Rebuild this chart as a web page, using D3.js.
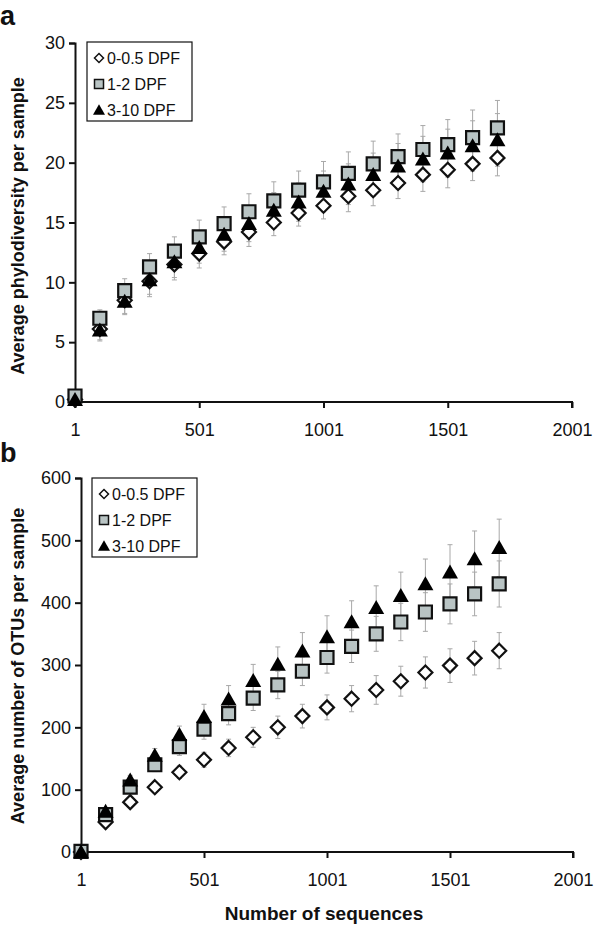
<!DOCTYPE html>
<html>
<head>
<meta charset="utf-8">
<script src="https://cdn.jsdelivr.net/npm/d3@7"></script>
<style>
  body { margin: 0; background: #fff; }
  svg { font-family: "Liberation Sans", Arial, sans-serif; }
</style>
</head>
<body>
<script>
// sequences sampled
var seqs = [1, 101, 201, 301, 401, 501, 601, 701, 801, 901, 1001, 1101, 1201, 1301, 1401, 1501, 1601, 1701];
var xTicks = [1, 501, 1001, 1501, 2001];
var seriesNames = ["0-0.5 DPF", "1-2 DPF", "3-10 DPF"];

// panel a: phylodiversity
var pdEarly = [0.2, 6.1, 8.5, 10.1, 11.5, 12.4, 13.4, 14.2, 15.0, 15.8, 16.4, 17.2, 17.7, 18.3, 19.0, 19.4, 19.9, 20.4];
var pdMid   = [0.5, 7.0, 9.3, 11.3, 12.6, 13.8, 14.9, 15.9, 16.8, 17.7, 18.4, 19.1, 19.9, 20.5, 21.1, 21.5, 22.1, 22.9];
var pdLate  = [0.2, 6.0, 8.4, 10.2, 11.7, 12.9, 14.0, 14.9, 16.0, 16.7, 17.6, 18.2, 19.0, 19.7, 20.3, 20.8, 21.4, 21.9];
var pdEarlyErr = [0, 1.0, 1.2, 1.3, 1.3, 1.2, 1.1, 1.2, 1.1, 1.1, 1.1, 1.3, 1.3, 1.3, 1.4, 1.5, 1.4, 1.5];
var pdMidErr   = [0, 0.7, 1.0, 1.1, 1.2, 1.4, 1.4, 1.5, 1.6, 1.6, 1.7, 1.8, 1.9, 1.9, 2.0, 2.1, 2.3, 2.3];
var pdLateErr  = [0, 0.8, 1.0, 1.2, 1.3, 1.3, 1.4, 1.5, 1.5, 1.6, 1.7, 1.7, 1.8, 1.9, 1.9, 2.0, 2.1, 2.2];
var pdTicks = [0, 5, 10, 15, 20, 25, 30];

// panel b: OTUs
var otuEarly = [0, 48, 80, 104, 128, 148, 167, 184, 200, 218, 232, 246, 260, 274, 288, 299, 311, 323];
var otuMid   = [1, 60, 104, 140, 169, 197, 222, 247, 268, 290, 312, 330, 350, 369, 385, 398, 414, 430];
var otuLate  = [0, 65, 115, 155, 188, 217, 245, 275, 301, 322, 345, 369, 392, 411, 430, 449, 470, 488];
var otuEarlyErr = [0, 4, 6, 8, 10, 12, 14, 16, 18, 19, 20, 21, 23, 24, 25, 27, 27, 29];
var otuMidErr   = [0, 5, 9, 11, 14, 16, 18, 20, 22, 23, 25, 26, 28, 30, 31, 32, 35, 37];
var otuLateErr  = [0, 5, 8, 11, 14, 20, 22, 26, 28, 30, 34, 34, 35, 38, 40, 44, 45, 46];
var otuTicks = [0, 100, 200, 300, 400, 500, 600];

var svg = d3.select("body").append("svg")
    .attr("width", 600)
    .attr("height", 928);

// marker shapes, r = half size
function markerPath(kind, r) {
  if (kind == 0) {
    return "M0," + (-r) + "L" + r + ",0L0," + r + "L" + (-r) + ",0Z";
  } else if (kind == 1) {
    return "M" + (-r) + "," + (-r) + "H" + r + "V" + r + "H" + (-r) + "Z";
  }
  var h = r * 1.75;
  return "M0," + (-h * 0.55) + "L" + r + "," + (h * 0.45) + "L" + (-r) + "," + (h * 0.45) + "Z";
}
var fills = ["#fff", "#b9c4c4", "#000"];

function drawMarker(g, kind, x, y, big) {
  var r = big ? [7, 6.5, 8][kind] : [4.5, 4.5, 6][kind];
  g.append("path")
    .attr("d", markerPath(kind, r))
    .attr("transform", "translate(" + x + "," + y + ")")
    .attr("fill", fills[kind])
    .attr("stroke", kind == 2 ? "none" : "#111")
    .attr("stroke-width", big ? 2.2 : 1.5);
}

function panel(opts) {
  var x = d3.scaleLinear().domain([1, 2001]).range([opts.left, opts.right]);
  var y = d3.scaleLinear().domain([opts.ticks[0], opts.ticks[opts.ticks.length - 1]]).range([opts.bottom, opts.top]);
  var g = svg.append("g");

  // axes
  var yAxis = g.append("g")
      .attr("transform", "translate(" + opts.left + ",0)")
      .call(d3.axisLeft(y).tickValues(opts.ticks).tickFormat(d3.format("d")).tickSize(6).tickPadding(4));
  var xAxis = g.append("g")
      .attr("transform", "translate(0," + opts.bottom + ")")
      .call(d3.axisBottom(x).tickValues(xTicks).tickFormat(d3.format("d")).tickSize(6).tickPadding(15));
  [xAxis, yAxis].forEach(function(a) {
    a.attr("font-size", 18).attr("font-family", "Liberation Sans, Arial, sans-serif");
    a.select(".domain").attr("stroke", "#111").attr("stroke-width", 2);
    a.selectAll(".tick line").attr("stroke", "#111").attr("stroke-width", 2);
    a.selectAll(".tick text").attr("fill", "#111");
  });
  xAxis.select(".domain").attr("d", "M" + opts.left + ",0H" + opts.right + "V6");

  // error bars
  opts.series.forEach(function(s) {
    seqs.forEach(function(q, i) {
      if (s.err[i] == 0) return;
      var cx = x(q), y1 = y(s.vals[i] + s.err[i]), y0 = y(s.vals[i] - s.err[i]);
      g.append("line").attr("x1", cx).attr("x2", cx).attr("y1", y1).attr("y2", y0)
        .attr("stroke", "#a8a8a8").attr("stroke-width", 1);
      [y0, y1].forEach(function(cy) {
        g.append("line").attr("x1", cx - 2.5).attr("x2", cx + 2.5).attr("y1", cy).attr("y2", cy)
          .attr("stroke", "#a8a8a8").attr("stroke-width", 1);
      });
    });
  });

  // markers
  opts.series.forEach(function(s, k) {
    seqs.forEach(function(q, i) {
      drawMarker(g, k, x(q), y(s.vals[i]), true);
    });
  });

  // legend
  var L = opts.legend;
  g.append("rect").attr("x", L.x).attr("y", L.y).attr("width", 105).attr("height", 79)
    .attr("fill", "#fff").attr("stroke", "#111").attr("stroke-width", 1.2);
  seriesNames.forEach(function(n, k) {
    var cy = L.y + 16 + k * 26;
    drawMarker(g, k, L.x + 12, cy, false);
    g.append("text").attr("x", L.x + 20).attr("y", cy + 5.5)
      .attr("font-size", 16).attr("fill", "#111").text(n);
  });

  // y title
  g.append("text")
    .attr("transform", "translate(24," + opts.titleY + ") rotate(-90)")
    .attr("text-anchor", "middle")
    .attr("font-size", 18).attr("font-weight", "bold").attr("fill", "#111")
    .text(opts.title);

  // panel letter
  g.append("text").attr("x", 0).attr("y", opts.letterY)
    .attr("font-size", 27).attr("font-weight", "bold").attr("fill", "#111")
    .text(opts.letter);
}

panel({
  left: 75, right: 572, top: 43, bottom: 402,
  ticks: pdTicks,
  series: [
    {vals: pdEarly, err: pdEarlyErr},
    {vals: pdMid, err: pdMidErr},
    {vals: pdLate, err: pdLateErr}
  ],
  legend: {x: 87, y: 42},
  title: "Average phylodiversity per sample",
  titleY: 226,
  letter: "a", letterY: 25
});

panel({
  left: 81, right: 573, top: 478, bottom: 852,
  ticks: otuTicks,
  series: [
    {vals: otuEarly, err: otuEarlyErr},
    {vals: otuMid, err: otuMidErr},
    {vals: otuLate, err: otuLateErr}
  ],
  legend: {x: 92, y: 478},
  title: "Average number of OTUs per sample",
  titleY: 666,
  letter: "b", letterY: 462
});

svg.append("text")
  .attr("x", 324).attr("y", 920)
  .attr("text-anchor", "middle")
  .attr("font-size", 19).attr("font-weight", "bold").attr("fill", "#111")
  .text("Number of sequences");
</script>
</body>
</html>
